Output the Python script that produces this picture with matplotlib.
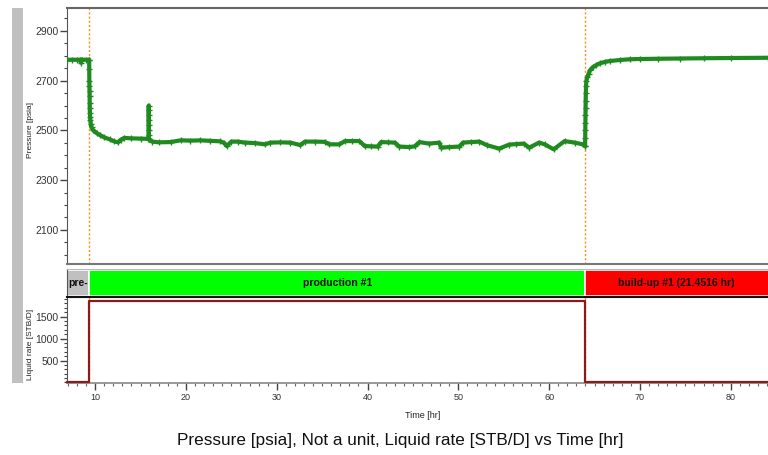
import matplotlib
matplotlib.use("Agg")
import matplotlib.pyplot as plt
from matplotlib.patches import Rectangle
from matplotlib.ticker import MultipleLocator

plt.rcParams['font.family'] = ['Liberation Sans', 'DejaVu Sans']

# ---------------- data ----------------
time_p = [6.9, 7.5, 8.0, 8.35, 8.44, 8.44, 8.52, 9.0, 9.3,
          9.34, 9.35, 9.36, 9.37, 9.38, 9.39, 9.40, 9.41, 9.42, 9.44, 9.47, 9.52, 9.6, 9.8,
          10.2, 10.5, 11.0, 11.6, 12.1, 12.5, 12.8, 13.2, 14.0, 15.0, 15.85,
          15.9, 15.9, 15.9, 15.9, 15.9, 15.9, 15.9, 15.92,
          16.3, 17.0, 18.3, 19.4, 20.5, 21.6, 22.7, 23.8, 24.2, 24.5, 25.0, 25.7,
          26.5, 27.6, 28.7, 29.3, 30.4, 31.5, 32.6, 33.1, 34.2, 35.3, 35.8, 36.9,
          37.5, 38.3, 39.1, 39.7, 40.4, 41.1, 41.5, 42.2, 43.0, 43.5, 44.6, 45.2,
          45.7, 46.8, 47.9, 48.1, 49.0, 50.1, 50.5, 51.4, 52.3, 53.2, 54.5, 55.6,
          56.4, 57.2, 57.8, 58.9, 59.5, 60.5, 61.7, 62.8, 63.7, 63.95,
          63.96, 63.97, 63.98, 63.99, 64.0, 64.01, 64.02, 64.04, 64.06, 64.1,
          64.2, 64.35, 64.5, 64.8, 65.2, 65.6, 66.2, 66.7, 67.8, 68.9, 70.0,
          72.0, 74.4, 77.0, 80.0, 84.1]
pressure = [2784, 2784, 2784, 2784, 2772, 2784, 2784, 2784, 2784,
            2784, 2745, 2700, 2680, 2660, 2640, 2610, 2590, 2570, 2555, 2540, 2525, 2512, 2500,
            2488, 2482, 2472, 2464, 2456, 2452, 2462, 2470, 2468, 2467, 2466,
            2480, 2500, 2520, 2540, 2560, 2580, 2600, 2466,
            2455, 2452, 2453, 2460, 2459, 2460, 2458, 2456, 2450, 2437, 2455, 2455,
            2451, 2449, 2444, 2451, 2452, 2451, 2441, 2455, 2455, 2454, 2444, 2444,
            2457, 2457, 2457, 2437, 2436, 2435, 2453, 2452, 2451, 2435, 2433, 2436,
            2453, 2447, 2451, 2431, 2433, 2435, 2451, 2453, 2455, 2440, 2427, 2443,
            2445, 2447, 2431, 2451, 2444, 2424, 2457, 2451, 2444, 2437,
            2437, 2470, 2500, 2530, 2560, 2590, 2620, 2650, 2680, 2700,
            2715, 2728, 2742, 2754, 2763, 2770, 2776, 2779, 2783, 2786, 2787,
            2788, 2789, 2790, 2791, 2792]

time_q = [6.9, 9.34, 9.34, 63.96, 63.96, 84.1]
rate_q = [0, 0, 1860, 1860, 0, 0]

phase_names = ["pre-", "production #1", "build-up #1 (21.4516 hr)"]
phase_start = [6.9, 9.34, 63.96]
phase_end = [9.34, 63.96, 85.4116]
phase_colors = ["#c0c0c0", "#00ff00", "#ff0000"]

x_ticks = [10, 20, 30, 40, 50, 60, 70, 80]
p_ticks = [2100, 2300, 2500, 2700, 2900]
q_ticks = [500, 1000, 1500]

XMIN, XMAX = 6.9, 84.1

# ---------------- figure ----------------
W, H = 768, 455
fig = plt.figure(figsize=(W / 100, H / 100), dpi=100)
fig.patch.set_facecolor("white")

def fx(px):
    return px / W

def fy(py):
    return 1 - py / H

# gray bar at far left
fig.patches.append(Rectangle((fx(12), fy(383)), fx(23) - fx(12), fy(8) - fy(383),
                             transform=fig.transFigure, facecolor="#c0c0c0",
                             edgecolor="none", zorder=0))

left = fx(67)
width = 1 - left
ax_p = fig.add_axes([left, fy(264), width, fy(8) - fy(264)])
ax_ph = fig.add_axes([left, fy(297), width, fy(269) - fy(297)])
ax_q = fig.add_axes([left, fy(383), width, fy(297) - fy(383)])

green = "#1f8a1f"

# pressure panel
ax_p.plot(time_p, pressure, color=green, lw=3.0, marker="+", ms=4, mew=1.0,
          solid_joinstyle="round", zorder=3)
for t in [9.34, 63.96]:
    ax_p.axvline(t, color="#ff8c1a", lw=1.0, ls=(0, (1.5, 1.5)), zorder=2)
ax_p.set_xlim(XMIN, XMAX)
ax_p.set_ylim(1963, 2992)
ax_p.set_yticks(p_ticks)
ax_p.yaxis.set_minor_locator(MultipleLocator(50))
ax_p.set_xticks([])
ax_p.tick_params(axis="y", which="major", length=5, width=1, color="#444444",
                 labelsize=7.5, labelcolor="#333333", pad=1)
ax_p.tick_params(axis="y", which="minor", length=2, width=0.8, color="#444444")
ax_p.spines["right"].set_visible(False)
ax_p.spines["left"].set_color("#555555")
ax_p.spines["top"].set_color("#666666")
ax_p.spines["top"].set_linewidth(1.5)
ax_p.spines["bottom"].set_color("#777777")
ax_p.spines["bottom"].set_linewidth(1.5)

# phase bar
ax_ph.set_xlim(XMIN, XMAX)
ax_ph.set_ylim(0, 1)
for name, s, e, c in zip(phase_names, phase_start, phase_end, phase_colors):
    ax_ph.add_patch(Rectangle((s, 0.02), e - s, 0.96, facecolor=c,
                              edgecolor="white", lw=1.2))
    cx = (max(s, XMIN) + min(e, XMAX)) / 2
    ax_ph.text(cx, 0.5, name, ha="center", va="center", fontsize=7.6,
               fontweight="bold", color="#111111")
ax_ph.set_xticks([])
ax_ph.set_yticks([])
ax_ph.spines["right"].set_visible(False)
ax_ph.spines["left"].set_color("#555555")
ax_ph.spines["top"].set_color("#bbbbbb")
ax_ph.spines["bottom"].set_color("#111111")
ax_ph.spines["bottom"].set_linewidth(1.5)

# rate panel
ax_q.plot(time_q, rate_q, color="#8b1a1a", lw=1.6, clip_on=False, zorder=3)
ax_q.axvline(9.34, color="#ff8c1a", lw=1.0, ls=(0, (1.5, 1.5)), zorder=2)
ax_q.axvline(63.96, color="#ff8c1a", lw=1.0, ls=(0, (1.5, 1.5)), zorder=2)
ax_q.set_xlim(XMIN, XMAX)
ax_q.set_ylim(-12, 1946)
ax_q.set_yticks(q_ticks)
ax_q.yaxis.set_minor_locator(MultipleLocator(100))
ax_q.set_xticks(x_ticks)
ax_q.xaxis.set_minor_locator(MultipleLocator(1))
ax_q.tick_params(axis="y", which="major", length=5, width=1, color="#444444",
                 labelsize=7.5, labelcolor="#333333", pad=1)
ax_q.tick_params(axis="y", which="minor", length=2, width=0.8, color="#444444")
ax_q.tick_params(axis="x", which="major", length=5, width=1, color="#444444",
                 labelsize=6.5, labelcolor="#333333", pad=2)
ax_q.tick_params(axis="x", which="minor", length=2, width=0.8, color="#666666")
ax_q.spines["right"].set_visible(False)
ax_q.spines["top"].set_color("#111111")
ax_q.spines["left"].set_color("#555555")
ax_q.spines["bottom"].set_color("#888888")
ax_q.spines["bottom"].set_linestyle((0, (1, 1)))
ax_q.spines["bottom"].set_linewidth(1.2)

# labels
fig.text(fx(31), fy(130), "Pressure [psia]", rotation=90, ha="center", va="center",
         fontsize=6, color="#222222")
fig.text(fx(31), fy(344), "Liquid rate [STB/D]", rotation=90, ha="center", va="center",
         fontsize=6, color="#222222")
fig.text(fx(423), fy(415), "Time [hr]", ha="center", va="center", fontsize=6.5,
         color="#222222")
fig.text(fx(400), fy(440), "Pressure [psia], Not a unit, Liquid rate [STB/D] vs Time [hr]",
         ha="center", va="center", fontsize=12.3, color="#111111")

fig.savefig("out.png", dpi=100)
